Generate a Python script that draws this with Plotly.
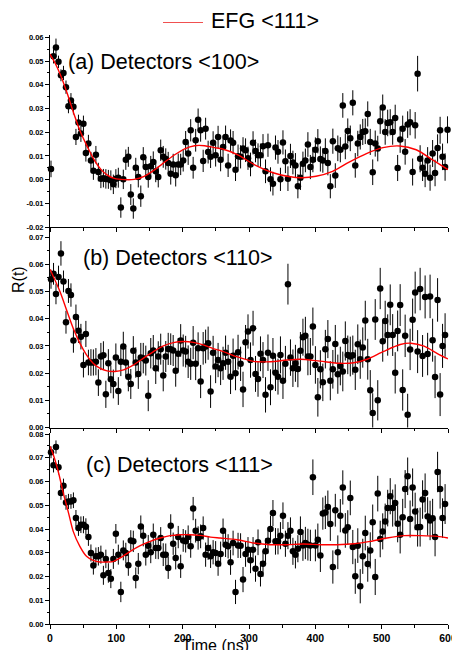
import plotly.graph_objects as go

# ---------------- data ----------------
t_ns = [1.5, 5.3, 9.0, 12.8, 16.5, 20.3, 24.1, 27.8, 31.6, 35.3,
        39.1, 42.9, 46.6, 50.4, 54.1, 57.9, 61.7, 65.4, 69.2, 72.9,
        76.7, 80.5, 84.2, 88.0, 91.7, 95.5, 99.3, 103.0, 106.8, 110.5,
        114.3, 118.1, 121.8, 125.6, 129.3, 133.1, 136.9, 140.6, 144.4, 148.1,
        151.9, 155.7, 159.4, 163.2, 166.9, 170.7, 174.5, 178.2, 182.0, 185.7,
        189.5, 193.3, 197.0, 200.8, 204.5, 208.3, 212.1, 215.8, 219.6, 223.3,
        227.1, 230.9, 234.6, 238.4, 242.1, 245.9, 249.7, 253.4, 257.2, 260.9,
        264.7, 268.5, 272.2, 276.0, 279.7, 283.5, 287.3, 291.0, 294.8, 298.5,
        302.3, 306.1, 309.8, 313.6, 317.3, 321.1, 324.9, 328.6, 332.4, 336.1,
        339.9, 343.7, 347.4, 351.2, 354.9, 358.7, 362.5, 366.2, 370.0, 373.7,
        377.5, 381.3, 385.0, 388.8, 392.5, 396.3, 400.1, 403.8, 407.6, 411.3,
        415.1, 418.9, 422.6, 426.4, 430.1, 433.9, 437.7, 441.4, 445.2, 448.9,
        452.7, 456.5, 460.2, 464.0, 467.7, 471.5, 475.3, 479.0, 482.8, 486.5,
        490.3, 494.1, 497.8, 501.6, 505.3, 509.1, 512.9, 516.6, 520.4, 524.1,
        527.9, 531.7, 535.4, 539.2, 542.9, 546.7, 550.5, 554.2, 558.0, 561.7,
        565.5, 569.3, 573.0, 576.8, 580.5, 584.3, 588.1, 591.8, 595.6, 599.3]

# (a) Detectors <100>
r_a = [0.0045, 0.052, 0.0557, 0.0497, 0.044, 0.045, 0.039, 0.031, 0.0334, 0.0307,
       0.018, 0.0241, 0.0194, 0.0236, 0.0112, 0.0152, 0.0081, 0.0037, 0.0105, 0.0032,
       0.0004, 0.0006, 0.0003, 0.0001, -0.0003, -0.002, 0.0004, 0.0008, -0.0118, 0.0001,
       0.0084, 0.0096, -0.0063, -0.0122, 0.005, 0.0011, -0.007, 0.0094, 0.0053, 0.0011,
       0.0056, 0.0074, 0.0035, 0.0011, 0.0124, 0.0096, 0.0087, 0.007, 0.0025, 0.0064,
       0.0018, 0.0064, 0.0064, 0.0081, 0.0159, 0.011, 0.0208, 0.005, 0.0166, 0.0253,
       0.0208, 0.0079, 0.0215, 0.0116, 0.0096, 0.0155, 0.0103, 0.018, 0.0084, 0.0138,
       0.018, 0.006, 0.0165, 0.0156, 0.0042, 0.0098, 0.0096, 0.0131, 0.0124, 0.009,
       0.0064, 0.0155, 0.0121, 0.0103, 0.0103, 0.0141, 0.0035, 0.0145, 0.0001, -0.0017,
       0.0135, 0.0117, 0.0001, 0.0157, 0.0077, 0.0004, 0.01, 0.0072, 0.006, -0.0028,
       0.0008, 0.0067, 0.0081, 0.0148, 0.0053, 0.0084, 0.0126, 0.0162, 0.0087, 0.0081,
       0.0121, 0.007, -0.0028, 0.0162, 0.0017, 0.0132, 0.0126, 0.0313, 0.014, 0.0205,
       0.0174, 0.0324, 0.006, 0.0152, 0.018, 0.0201, 0.0204, 0.0277, 0.0159, 0.0031,
       0.0152, 0.0131, 0.0246, 0.0304, 0.0201, 0.0239, 0.0242, 0.0201, 0.026, 0.0049,
       0.0169, 0.0215, 0.0117, 0.0232, 0.0242, 0.0032, 0.0229, 0.0447, 0.0088, 0.005,
       0.0025, 0.0081, 0.0008, 0.011, 0.0028, 0.0133, 0.0208, 0.0096, 0.0053, 0.021]
e_a = [0.0035, 0.003, 0.0038, 0.0026, 0.0025, 0.003, 0.0028, 0.003, 0.0031, 0.0032,
       0.0034, 0.0033, 0.0035, 0.0034, 0.0036, 0.0037, 0.0036, 0.0038, 0.0037, 0.0039,
       0.004, 0.0039, 0.0041, 0.004, 0.0042, 0.0041, 0.004, 0.0042, 0.0043, 0.0041,
       0.0043, 0.0042, 0.0044, 0.0043, 0.0042, 0.0044, 0.0045, 0.0043, 0.0044, 0.0045,
       0.0044, 0.0045, 0.0046, 0.0044, 0.0045, 0.0046, 0.0045, 0.0047, 0.0046, 0.0045,
       0.0047, 0.0046, 0.0045, 0.0047, 0.0046, 0.0048, 0.0047, 0.0046, 0.0048, 0.0047,
       0.0048, 0.0047, 0.0046, 0.0048, 0.0047, 0.0049, 0.0048, 0.0047, 0.0049, 0.0048,
       0.0048, 0.0049, 0.0047, 0.0049, 0.0048, 0.005, 0.0049, 0.0048, 0.005, 0.0049,
       0.005, 0.0049, 0.0048, 0.005, 0.0049, 0.0051, 0.005, 0.0049, 0.0051, 0.005,
       0.0051, 0.005, 0.0049, 0.0051, 0.005, 0.0052, 0.0051, 0.005, 0.0052, 0.0051,
       0.0052, 0.0051, 0.005, 0.0052, 0.0051, 0.0053, 0.0052, 0.0051, 0.0053, 0.0052,
       0.0053, 0.0052, 0.0051, 0.0053, 0.0052, 0.0054, 0.0053, 0.0052, 0.0054, 0.0053,
       0.0054, 0.0053, 0.0052, 0.0054, 0.0053, 0.0055, 0.0054, 0.0053, 0.0055, 0.0054,
       0.0055, 0.0054, 0.0053, 0.0055, 0.0054, 0.0056, 0.0055, 0.0054, 0.0056, 0.0055,
       0.0056, 0.0055, 0.0054, 0.0056, 0.0055, 0.0057, 0.0056, 0.0075, 0.0057, 0.0056,
       0.0057, 0.0056, 0.0055, 0.0057, 0.0056, 0.0058, 0.0057, 0.0056, 0.0058, 0.0057]

# (b) Detectors <110>
r_b = [0.0545, 0.0565, 0.0491, 0.0553, 0.064, 0.0537, 0.0387, 0.0502, 0.0487, 0.032,
       0.0406, 0.0356, 0.0334, 0.023, 0.0344, 0.0239, 0.0239, 0.0239, 0.0242, 0.0165,
       0.0261, 0.0266, 0.0122, 0.0236, 0.0177, 0.016, 0.0257, 0.0134, 0.0242, 0.0298,
       0.0239, 0.0187, 0.016, 0.0282, 0.0239, 0.0197, 0.0257, 0.0255, 0.0246, 0.0117,
       0.0273, 0.0283, 0.0218, 0.0261, 0.0288, 0.0191, 0.0261, 0.0289, 0.0288, 0.0283,
       0.0209, 0.0271, 0.032, 0.0283, 0.0279, 0.0242, 0.0234, 0.0312, 0.0234, 0.0291,
       0.0169, 0.0291, 0.0298, 0.031, 0.0132, 0.0275, 0.0224, 0.0248, 0.0218, 0.0236,
       0.0275, 0.0242, 0.0187, 0.0264, 0.0199, 0.0277, 0.0234, 0.014, 0.0313, 0.0353,
       0.0248, 0.0365, 0.0197, 0.0178, 0.0271, 0.0248, 0.012, 0.0275, 0.0148, 0.0264,
       0.0201, 0.0187, 0.0267, 0.0172, 0.0234, 0.0527, 0.0257, 0.0218, 0.0236, 0.0215,
       0.0282, 0.0332, 0.0337, 0.0261, 0.0261, 0.0371, 0.023, 0.0111, 0.0214, 0.0166,
       0.0288, 0.0325, 0.0172, 0.0214, 0.0307, 0.0196, 0.0226, 0.0206, 0.0318, 0.0267,
       0.0261, 0.0266, 0.0212, 0.0306, 0.0251, 0.0294, 0.0393, 0.0251, 0.0137, 0.0053,
       0.0397, 0.01, 0.0511, 0.0317, 0.0392, 0.034, 0.0451, 0.034, 0.0201, 0.0355,
       0.045, 0.0138, 0.0337, 0.0047, 0.0287, 0.0396, 0.0496, 0.0279, 0.0509, 0.0263,
       0.048, 0.027, 0.0482, 0.0321, 0.0186, 0.0469, 0.0121, 0.03, 0.034]
e_b = [0.0035, 0.004, 0.0038, 0.0042, 0.0045, 0.004, 0.0042, 0.0044, 0.0043, 0.0045,
       0.0046, 0.0045, 0.0047, 0.0046, 0.0048, 0.0047, 0.0049, 0.0048, 0.005, 0.0049,
       0.005, 0.0051, 0.005, 0.0052, 0.0051, 0.0053, 0.0052, 0.0051, 0.0053, 0.0054,
       0.0053, 0.0054, 0.0055, 0.0054, 0.0056, 0.0055, 0.0054, 0.0056, 0.0055, 0.0057,
       0.0056, 0.0057, 0.0058, 0.0056, 0.0057, 0.0058, 0.0057, 0.0059, 0.0058, 0.0057,
       0.0059, 0.0058, 0.006, 0.0059, 0.0058, 0.006, 0.0059, 0.0061, 0.006, 0.0059,
       0.0061, 0.006, 0.0062, 0.0061, 0.006, 0.0062, 0.0061, 0.0063, 0.0062, 0.0061,
       0.0063, 0.0062, 0.0064, 0.0063, 0.0062, 0.0064, 0.0063, 0.0065, 0.0064, 0.0063,
       0.0065, 0.0064, 0.0066, 0.0065, 0.0064, 0.0066, 0.0065, 0.0067, 0.0066, 0.0065,
       0.0067, 0.0066, 0.0068, 0.0067, 0.0066, 0.0075, 0.0067, 0.0069, 0.0068, 0.0067,
       0.0069, 0.0068, 0.007, 0.0069, 0.0068, 0.007, 0.0069, 0.0071, 0.007, 0.0069,
       0.0071, 0.007, 0.0072, 0.0071, 0.007, 0.0072, 0.0071, 0.0073, 0.0072, 0.0071,
       0.0073, 0.0072, 0.0074, 0.0073, 0.0072, 0.0074, 0.0073, 0.0075, 0.0074, 0.0073,
       0.0075, 0.0074, 0.0076, 0.0075, 0.0074, 0.0076, 0.0075, 0.0077, 0.0076, 0.0075,
       0.0077, 0.0076, 0.0078, 0.0077, 0.0076, 0.0078, 0.0077, 0.0079, 0.0078, 0.0077,
       0.0079, 0.0078, 0.008, 0.0079, 0.0078, 0.008, 0.0079, 0.0081, 0.008]

# (c) Detectors <111>
r_c = [0.0723, 0.0668, 0.0745, 0.066, 0.0552, 0.0582, 0.0512, 0.0516, 0.0516, 0.0521,
       0.0446, 0.0404, 0.0418, 0.0418, 0.041, 0.0366, 0.0299, 0.0246, 0.0285, 0.0285,
       0.0292, 0.0205, 0.0274, 0.0215, 0.0191, 0.0274, 0.038, 0.0292, 0.0135, 0.031,
       0.0299, 0.0247, 0.0352, 0.0348, 0.0194, 0.0254, 0.0411, 0.0372, 0.0292, 0.033,
       0.0302, 0.0376, 0.032, 0.032, 0.0362, 0.0292, 0.0292, 0.0236, 0.0414, 0.0338,
       0.0278, 0.0366, 0.0243, 0.0352, 0.0348, 0.0366, 0.0327, 0.0486, 0.0393, 0.0362,
       0.0369, 0.0404, 0.0292, 0.032, 0.0285, 0.0302, 0.0299, 0.0254, 0.0295, 0.0393,
       0.0334, 0.0327, 0.026, 0.0341, 0.0135, 0.0331, 0.033, 0.0187, 0.0295, 0.0313,
       0.0268, 0.0313, 0.0233, 0.0344, 0.0211, 0.0254, 0.0306, 0.0351, 0.04, 0.0467,
       0.0348, 0.0348, 0.0372, 0.0456, 0.0338, 0.0372, 0.0393, 0.0306, 0.0292, 0.0317,
       0.0387, 0.0331, 0.0341, 0.0334, 0.0331, 0.0618, 0.0331, 0.0355, 0.0288, 0.0465,
       0.047, 0.0493, 0.0421, 0.024, 0.0479, 0.0302, 0.0456, 0.0575, 0.0394, 0.0407,
       0.0531, 0.0324, 0.0201, 0.033, 0.0159, 0.0285, 0.0383, 0.0253, 0.031, 0.0428,
       0.0198, 0.0549, 0.0358, 0.039, 0.0432, 0.0488, 0.0538, 0.0488, 0.0509, 0.0422,
       0.0376, 0.0449, 0.0568, 0.0622, 0.0442, 0.0575, 0.0474, 0.0407, 0.0408, 0.0524,
       0.0552, 0.0453, 0.0436, 0.0445, 0.0366, 0.064, 0.0568, 0.0446, 0.0505]
e_c = [0.0025, 0.003, 0.0028, 0.003, 0.0029, 0.003, 0.0031, 0.0032, 0.0031, 0.0033,
       0.0034, 0.0033, 0.0035, 0.0036, 0.0035, 0.0037, 0.0036, 0.0038, 0.0037, 0.0039,
       0.0038, 0.004, 0.0039, 0.0041, 0.004, 0.0042, 0.0041, 0.0042, 0.0043, 0.0042,
       0.0043, 0.0044, 0.0043, 0.0045, 0.0044, 0.0045, 0.0046, 0.0045, 0.0046, 0.0045,
       0.0046, 0.0047, 0.0046, 0.0047, 0.0046, 0.0048, 0.0047, 0.0046, 0.0048, 0.0047,
       0.0048, 0.0047, 0.0049, 0.0048, 0.0047, 0.0049, 0.0048, 0.0049, 0.005, 0.0049,
       0.005, 0.0049, 0.0051, 0.005, 0.0049, 0.0051, 0.005, 0.0051, 0.0052, 0.0051,
       0.0052, 0.0051, 0.0053, 0.0052, 0.0051, 0.0053, 0.0052, 0.0053, 0.0054, 0.0053,
       0.0054, 0.0053, 0.0055, 0.0054, 0.0053, 0.0055, 0.0054, 0.0055, 0.0056, 0.0055,
       0.0056, 0.0055, 0.0057, 0.0056, 0.0055, 0.0057, 0.0056, 0.0057, 0.0058, 0.0057,
       0.0066, 0.0065, 0.0068, 0.0067, 0.0066, 0.0075, 0.0067, 0.0068, 0.0069, 0.0068,
       0.007, 0.0069, 0.0071, 0.007, 0.0069, 0.0071, 0.007, 0.0072, 0.0073, 0.0072,
       0.0073, 0.0072, 0.0074, 0.0073, 0.0072, 0.0074, 0.0073, 0.0075, 0.0076, 0.0075,
       0.0076, 0.0075, 0.0077, 0.0076, 0.0075, 0.0077, 0.0076, 0.0078, 0.0079, 0.0078,
       0.0079, 0.0078, 0.008, 0.0079, 0.0078, 0.008, 0.0079, 0.0081, 0.0082, 0.0081,
       0.0082, 0.0081, 0.0083, 0.0082, 0.0081, 0.0085, 0.0082, 0.0083, 0.0084]

# EFG <111> fit curves
fit_a_t = [0, 8, 16, 26, 36, 46, 57, 67, 77, 87, 97, 112, 127, 142, 157, 173, 188, 203,
           218, 233, 248, 259, 284, 310, 335, 360, 380, 401, 426, 451, 477, 502, 527,
           552, 578, 600]
fit_a = [0.053, 0.049, 0.044, 0.0363, 0.0278, 0.0201, 0.0135, 0.0081, 0.0042, 0.0018,
         0.0005, 0.0, 0.0001, 0.0014, 0.004, 0.0074, 0.0105, 0.013, 0.0143, 0.0143,
         0.0135, 0.013, 0.0103, 0.006, 0.003, 0.0013, 0.0008, 0.0014, 0.0035, 0.0074,
         0.011, 0.0135, 0.0142, 0.0126, 0.0081, 0.0042]
fit_b_t = [0, 15, 25, 35, 45, 55, 65, 75, 86, 98, 111, 126, 141, 156, 171, 186, 201, 216,
           231, 246, 260, 282, 307, 332, 357, 377, 407, 437, 458, 478, 503, 528, 544,
           564, 584, 600]
fit_b = [0.0582, 0.05, 0.0432, 0.0365, 0.031, 0.0267, 0.0236, 0.0218, 0.0208, 0.0206,
         0.0212, 0.023, 0.0255, 0.0279, 0.03, 0.0312, 0.0316, 0.0313, 0.0304, 0.029,
         0.028, 0.026, 0.0243, 0.0242, 0.0248, 0.0251, 0.0244, 0.0236, 0.0238, 0.0251,
         0.028, 0.0305, 0.031, 0.0299, 0.0272, 0.0252]
fit_c_t = [0, 5, 13, 20, 28, 35, 45, 55, 65, 75, 86, 96, 106, 121, 136, 151, 166, 181,
           196, 211, 226, 242, 257, 282, 307, 332, 357, 382, 408, 433, 458, 483, 508,
           534, 559, 584, 600]
fit_c = [0.0748, 0.0713, 0.0636, 0.0552, 0.0467, 0.039, 0.0327, 0.0285, 0.0268, 0.0261,
         0.0261, 0.0264, 0.0278, 0.0306, 0.033, 0.0348, 0.0362, 0.0372, 0.0376, 0.0376,
         0.0373, 0.0366, 0.0362, 0.0355, 0.0341, 0.0334, 0.0334, 0.0337, 0.0334, 0.0334,
         0.0338, 0.0348, 0.0362, 0.0372, 0.0372, 0.0369, 0.0362]

x_ticks = [0, 100, 200, 300, 400, 500, 600]
x_ticktext = ["0", "100", "200", "300", "400", "500", "600"]
ya_ticks = [-0.02, -0.01, 0.0, 0.01, 0.02, 0.03, 0.04, 0.05, 0.06]
ya_text = ["-0.02", "-0.01", "0.00", "0.01", "0.02", "0.03", "0.04", "0.05", "0.06"]
yb_ticks = [0.0, 0.01, 0.02, 0.03, 0.04, 0.05, 0.06, 0.07]
yb_text = ["0.00", "0.01", "0.02", "0.03", "0.04", "0.05", "0.06", "0.07"]
yc_ticks = [0.0, 0.01, 0.02, 0.03, 0.04, 0.05, 0.06, 0.07, 0.08]
yc_text = ["0.00", "0.01", "0.02", "0.03", "0.04", "0.05", "0.06", "0.07", "0.08"]

panel_labels = ["(a) Detectors &lt;100&gt;", "(b) Detectors &lt;110&gt;", "(c) Detectors &lt;111&gt;"]
legend_label = "EFG &lt;111&gt;"

FONT = "Liberation Sans, Arial, sans-serif"

# ---------------- figure ----------------
fig = go.Figure()

panels = [("x", "y", r_a, e_a, fit_a_t, fit_a),
          ("x2", "y2", r_b, e_b, fit_b_t, fit_b),
          ("x3", "y3", r_c, e_c, fit_c_t, fit_c)]

for xa, ya, r, e, ft, fv in panels:
    fig.add_trace(go.Scatter(
        x=t_ns[:len(r)], y=r, mode="markers", xaxis=xa, yaxis=ya,
        marker=dict(color="black", size=6.5),
        error_y=dict(type="data", array=e, visible=True, color="black",
                     thickness=1, width=0),
        cliponaxis=False, showlegend=False, hoverinfo="skip"))
for xa, ya, r, e, ft, fv in panels:
    fig.add_trace(go.Scatter(
        x=ft, y=fv, mode="lines", xaxis=xa, yaxis=ya,
        line=dict(color="red", width=1.4, shape="spline", smoothing=0.8),
        showlegend=False, hoverinfo="skip", name="EFG <111>"))

L, R, T, B = 50, 4, 35, 26
W, H = 452, 650
PH = H - T - B
PW = W - L - R


def px(x):
    return (x - L) / PW


def py(y):
    return (H - B - y) / PH


common_x = dict(range=[0, 600], tickmode="array", tickvals=x_ticks, ticktext=x_ticktext,
                showline=True, linecolor="black", linewidth=1, ticks="outside",
                ticklen=4, tickwidth=1, tickcolor="black", showgrid=False,
                zeroline=False, automargin=False, ticklabeloverflow="allow",
                minor=dict(tickmode="linear", tick0=0, dtick=50, ticks="outside",
                           ticklen=2.5, tickcolor="black", showgrid=False),
                tickfont=dict(family=FONT, size=10.5, color="black", weight="bold"))
common_y = dict(showline=True, linecolor="black", linewidth=1, ticks="outside",
                ticklen=4, tickwidth=1, tickcolor="black", showgrid=False,
                zeroline=False, tickmode="array", automargin=False,
                ticklabeloverflow="allow",
                minor=dict(tickmode="linear", tick0=0, dtick=0.005, ticks="outside",
                           ticklen=2, tickcolor="black", showgrid=False),
                tickfont=dict(family=FONT, size=7.5, color="black", weight="bold"))

dom_a = [py(227), 1.0]
dom_b = [py(427.5), py(227)]
dom_c = [0.0, py(433)]

fig.update_layout(
    width=W, height=H,
    margin=dict(l=L, r=R, t=T, b=B, autoexpand=False),
    paper_bgcolor="white", plot_bgcolor="white",
    font=dict(family=FONT, color="black"),
    showlegend=False,
    xaxis=dict(common_x, anchor="y", showticklabels=False),
    xaxis2=dict(common_x, anchor="y2", matches="x", showticklabels=False),
    xaxis3=dict(common_x, anchor="y3", matches="x", showticklabels=True),
    yaxis=dict(common_y, domain=dom_a, anchor="x", range=[-0.02, -0.02 + 192 / 2370],
               tickvals=ya_ticks, ticktext=ya_text),
    yaxis2=dict(common_y, domain=dom_b, anchor="x2", range=[0, 200.5 / 2720],
                tickvals=yb_ticks, ticktext=yb_text),
    yaxis3=dict(common_y, domain=dom_c, anchor="x3", range=[0, 191 / 2375],
                tickvals=yc_ticks, ticktext=yc_text),
)

ann = []
for label, xx, yy in zip(panel_labels, [66, 81, 84], [62, 258, 465]):
    ann.append(dict(text=label, xref="paper", yref="paper", x=px(xx), y=py(yy),
                    xanchor="left", yanchor="middle", showarrow=False,
                    font=dict(family=FONT, size=21.5, color="black")))
ann.append(dict(text=legend_label, xref="paper", yref="paper", x=px(209), y=py(21.5),
                xanchor="left", yanchor="middle", showarrow=False,
                font=dict(family=FONT, size=21.5, color="black")))
ann.append(dict(text="R(t)", xref="paper", yref="paper", x=px(18), y=py(280),
                xanchor="center", yanchor="middle", showarrow=False, textangle=-90,
                font=dict(family=FONT, size=16, color="black")))
ann.append(dict(text="Time (ns)", xref="paper", yref="paper", x=px(215), y=py(645),
                xanchor="center", yanchor="middle", showarrow=False,
                font=dict(family=FONT, size=16, color="black")))
fig.update_layout(annotations=ann)

fig.add_shape(type="line", xref="paper", yref="paper", x0=px(163), x1=px(203),
              y0=py(22.5), y1=py(22.5), line=dict(color="#f05050", width=1.2))

fig.write_html("out.html",
               config={"displayModeBar": False, "staticPlot": True},
               post_script="document.body.style.margin='0';"
                           "document.body.style.overflow='hidden';")
